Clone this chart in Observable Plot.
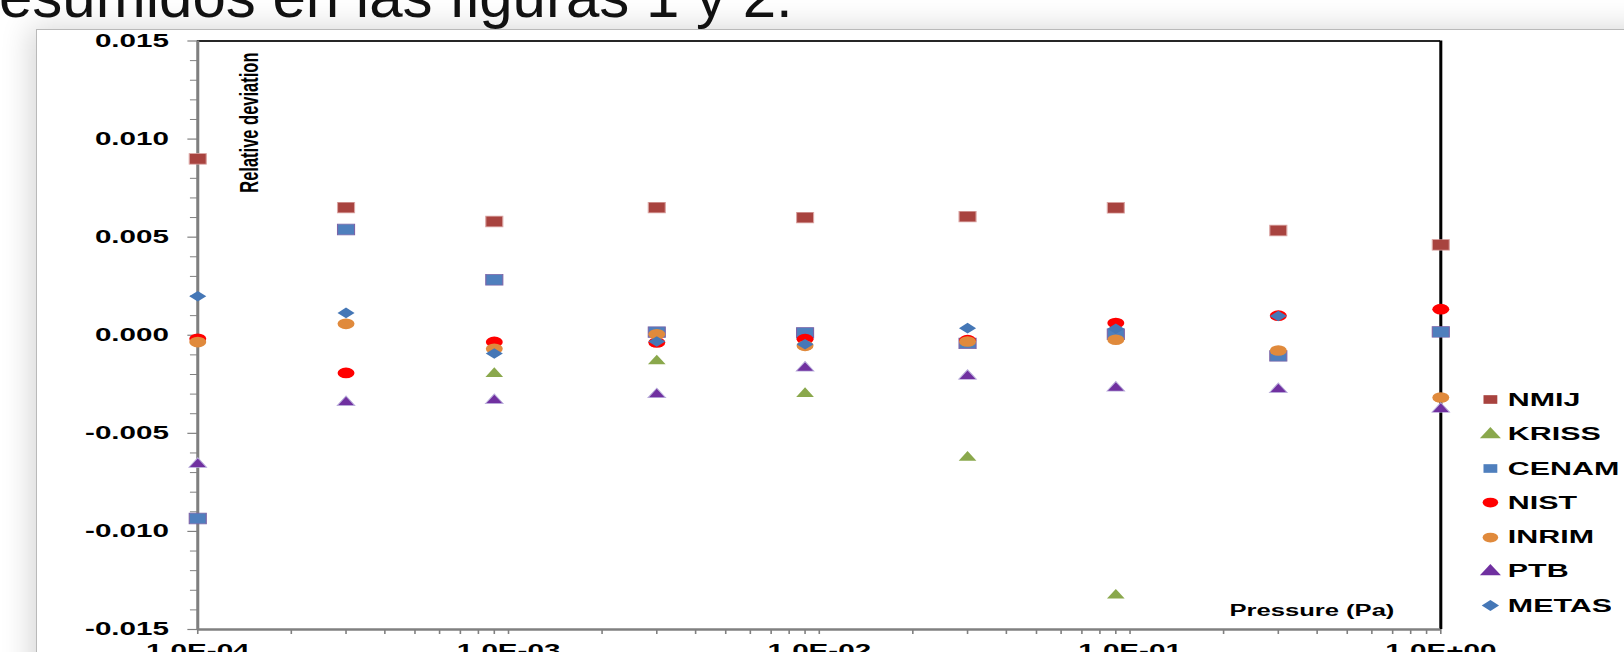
<!DOCTYPE html>
<html><head><meta charset="utf-8">
<script src="https://cdn.jsdelivr.net/npm/d3@7"></script>
<script src="https://cdn.jsdelivr.net/npm/@observablehq/plot@0.6"></script>
<style>
html,body{margin:0;padding:0;background:#fff;width:1624px;height:652px;overflow:hidden;position:relative;}
#frame{position:absolute;left:36px;top:29px;width:1700px;height:800px;border:1px solid #b9b9b9;background:#fff;box-shadow:-6px -2px 28px rgba(0,0,0,0.16);}
#title{position:absolute;left:-1px;top:-33px;font:60px/60px "Liberation Sans",Arial,sans-serif;color:#111;white-space:nowrap;}
#stretch{position:absolute;left:0;top:0;width:1015px;height:652px;transform:scaleX(1.6);transform-origin:0 0;}
#chart svg{position:absolute;left:0;top:0;}
#legend{position:absolute;left:924.4px;top:383.3px;}
#legend .lg-swatches{font-family:"Liberation Sans",Arial,sans-serif !important;font-size:19px !important;font-weight:bold !important;color:#000 !important;margin:0 !important;}
#legend .lg-swatch{height:33.3px;display:flex;align-items:center;font-family:"Liberation Sans",Arial,sans-serif;font-size:19px;font-weight:bold;color:#000;}
#legend .lg-swatch svg{margin-right:3px !important;}
</style></head><body>
<div id="frame"></div>
<div id="title">esumidos en las figuras 1 y 2.</div>
<div id="stretch"><div id="chart"></div><div id="legend"></div></div>
<script>
// ---- data ----
const pressures = [1e-4, 3e-4, 9e-4, 3e-3, 9e-3, 3e-2, 9e-2, 0.3, 1.0];
const seriesNames = ["NMIJ", "KRISS", "CENAM", "NIST", "INRIM", "PTB", "METAS"];
const NMIJ  = [0.00899, 0.00651, 0.00580, 0.00651, 0.00600, 0.00605, 0.00650, 0.00534, 0.00461];
const KRISS = [null, null, -0.00188, -0.00124, -0.00290, -0.00615, -0.01318, null, null];
const CENAM = [-0.00934, 0.00539, 0.00283, 0.00016, 0.00012, -0.00041, 0.00005, -0.00105, 0.00017];
const NIST  = [-0.00018, -0.00192, -0.00034, -0.00037, -0.00020, -0.00025, 0.00062, 0.00100, 0.00133];
const INRIM = [-0.00035, 0.00058, -0.00069, 0.00005, -0.00054, -0.00032, -0.00023, -0.00078, -0.00317];
const PTB   = [-0.00649, -0.00334, -0.00324, -0.00294, -0.00158, -0.00200, -0.00260, -0.00268, -0.00368];
const METAS = [0.00199, 0.00114, -0.00093, -0.00032, -0.00046, 0.00036, 0.00033, 0.00098, null];
const xTickValues = [1e-4, 1e-3, 1e-2, 1e-1, 1];
const xTickLabels = ["1.0E-04", "1.0E-03", "1.0E-02", "1.0E-01", "1.0E+00"];
const yTickValues = [-0.015, -0.010, -0.005, 0, 0.005, 0.010, 0.015];
const yTickLabels = ["-0.015", "-0.010", "-0.005", "0.000", "0.005", "0.010", "0.015"];
const yAxisTitle = "Relative deviation";
const xAxisTitle = "Pressure (Pa)";

// ---- styles ----
const colors = ["#a8433f", "#8aa84c", "#4f7fbd", "#ff0000", "#e08a3c", "#7030a0", "#4577b6"];
const shapes = ["square", "triangle", "square", "circle", "circle", "triangle", "diamond2"];
const markR = {square: 6, triangle: 4.1, circle: 5.3, diamond2: 4.8};
const markStroke = {NMIJ: "#dba5a3", KRISS: "none", CENAM: "#7d64a8", NIST: "none", INRIM: "none", PTB: "#b9aedb", METAS: "none"};

const seriesValues = {NMIJ, KRISS, CENAM, NIST, INRIM, PTB, METAS};
const rows = [];
seriesNames.forEach(s => seriesValues[s].forEach((v, i) => {
  if (v != null) rows.push({series: s, p: pressures[i], v});
}));

const minorX = [];
for (let e = -4; e < 0; e++) for (let m = 2; m <= 9; m++) minorX.push(m * Math.pow(10, e));
const minorY = [];
for (let i = -15; i <= 15; i++) if (i % 5 !== 0) minorY.push(i / 1000);

const fmtX = d => xTickLabels[xTickValues.findIndex(t => Math.abs(Math.log10(t) - Math.log10(d)) < 1e-6)];
const fmtY = d => yTickLabels[yTickValues.findIndex(t => Math.abs(t - d) < 1e-9)];

const FONT = "'Liberation Sans', Arial, sans-serif";

const plot = Plot.plot({
  width: 1015, height: 652,
  marginLeft: 123.1, marginRight: 115, marginTop: 40.5, marginBottom: 23,
  x: {type: "log", domain: [1e-4, 1]},
  y: {domain: [-0.015, 0.015]},
  color: {domain: seriesNames, range: colors},
  symbol: {domain: seriesNames, range: shapes},
  style: {background: "transparent", fontFamily: FONT, fontSize: "18.5px", fontWeight: "bold", color: "#000"},
  marks: [
    Plot.axisY({ticks: minorY, tickSize: 4.4, stroke: "#808080", fill: "none", label: null}),
    Plot.axisY({ticks: yTickValues, tickSize: 6, tickPadding: 12, tickFormat: fmtY, stroke: "#808080", strokeWidth: 1.2, fill: "#000", label: null}),
    Plot.axisX({ticks: minorX, tickSize: 5, stroke: "#808080", fill: "none", label: null}),
    Plot.axisX({ticks: xTickValues, tickSize: 5, tickPadding: 9, tickFormat: fmtX, stroke: "#808080", fill: "#000", label: null}),
    Plot.ruleY([0.015], {stroke: "#262626", strokeWidth: 2}),
    Plot.ruleX([1], {stroke: "#000", strokeWidth: 1.9}),
    Plot.ruleX([1e-4], {stroke: "#7f7f7f", strokeWidth: 1.9}),
    Plot.ruleY([-0.015], {stroke: "#808080", strokeWidth: 2.5}),
    ...seriesNames.map((s, i) => Plot.dot(rows.filter(d => d.series === s), {
      x: "p", y: "v", fill: "series", symbol: "series",
      r: markR[shapes[i]], stroke: markStroke[s], strokeWidth: 0.7,
      dy: shapes[i] === "triangle" ? 1.6 : 0
    })),
    Plot.text([yAxisTitle], {frameAnchor: "top-left", rotate: -90, textAnchor: "end", lineAnchor: "middle",
      dx: 32.5, dy: 11.5, fontSize: 16.5, fontWeight: "bold", fill: "#000"}),
    Plot.text([xAxisTitle], {frameAnchor: "bottom-right", textAnchor: "end", lineAnchor: "middle",
      dx: -29, dy: -19, fontSize: 16, fontWeight: "bold", fill: "#000"})
  ]
});
document.getElementById("chart").appendChild(plot);

const legend = plot.legend("symbol", {columns: 1, className: "lg", r: 5.2, swatchSize: 15});
if (legend) document.getElementById("legend").appendChild(legend);
</script>
</body></html>
